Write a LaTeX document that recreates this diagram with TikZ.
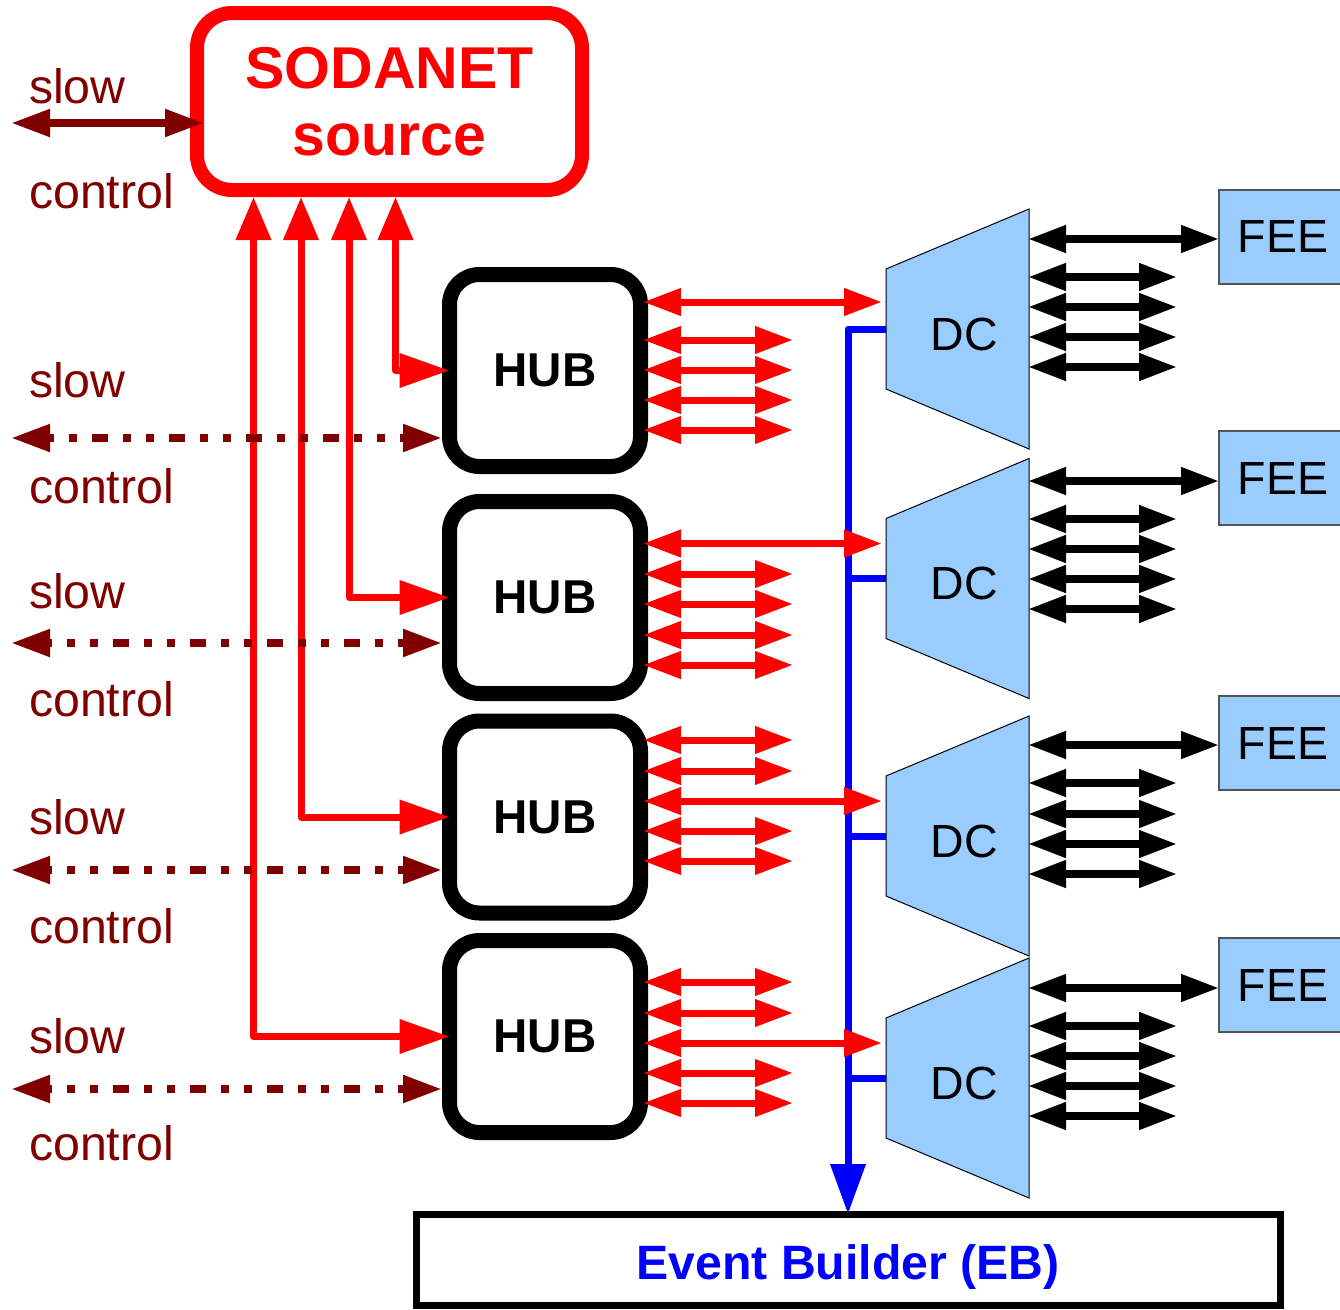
\documentclass[tikz,border=0pt]{standalone}
\usepackage{fontspec}
\setmainfont{Liberation Sans}
\usetikzlibrary{arrows.meta,calc}
\definecolor{sodred}{HTML}{FF0000}
\definecolor{slowred}{HTML}{800000}
\definecolor{ebblue}{HTML}{0000FF}
\definecolor{dcfill}{HTML}{99CCFF}
\definecolor{feeline}{HTML}{555555}
\tikzset{
  every node/.style={inner sep=0pt, outer sep=0pt},
  sodbox/.style={draw=sodred, line width=14pt, rounded corners=35pt,
    minimum width=385pt, minimum height=177pt, align=center, text=sodred,
    font=\fontsize{59}{67}\selectfont\bfseries},
  hubbox/.style={draw=black, line width=15pt, rounded corners=30pt,
    minimum width=191pt, minimum height=192pt,
    font=\fontsize{47.5}{55}\selectfont\bfseries},
  dcbody/.style={minimum width=143pt, minimum height=240pt},
  dcshape/.style={fill=dcfill, draw=black, line width=1pt},
  dclabel/.style={anchor=base, font=\fontsize{46.5}{54}\selectfont},
  feebox/.style={fill=dcfill, draw=feeline, line width=1.5pt,
    minimum width=128pt, minimum height=94pt,
    font=\fontsize{46.5}{54}\selectfont},
  ebbox/.style={draw=black, line width=7pt, minimum width=864pt, minimum height=91pt},
  eblabel/.style={anchor=base, text=ebblue, font=\fontsize{48.2}{56}\selectfont\bfseries},
  sclabel/.style={anchor=base west, text=slowred, font=\fontsize{48.3}{56}\selectfont},
  redlink/.style={draw=sodred, line width=7pt,
    {Triangle[length=38pt,width=26pt]}-{Triangle[length=38pt,width=26pt]}},
  blacklink/.style={draw=black, line width=7.5pt,
    {Triangle[length=38pt,width=26pt]}-{Triangle[length=38pt,width=26pt]}},
  feed/.style={draw=sodred, line width=7pt, line join=round,
    {Triangle[length=43pt,width=34pt]}-{Triangle[length=50pt,width=33pt]}},
  readout/.style={draw=ebblue, line width=7pt, line join=round},
  sclink/.style={draw=slowred, line width=8pt,
    {Triangle[length=39pt,width=26pt]}-{Triangle[length=39pt,width=26pt]}},
  scdash/.style={sclink, dash pattern=on 16pt off 15pt on 8pt off 15pt on 8pt off 15pt},
}
\begin{document}
\begin{tikzpicture}[x=1pt,y=-1pt]
\useasboundingbox (0,0) rectangle (1340,1309);

% source, hubs and event builder
\node[sodbox] (sod) at (389.5,101.5) {SODANET\\source};
\node[hubbox] (hub1) at (545,370.5) {HUB};
\node[hubbox] (hub2) at (545,597.5) {HUB};
\node[hubbox] (hub3) at (545,817) {HUB};
\node[hubbox] (hub4) at (545,1036.5) {HUB};
\node[ebbox] (eb) at (848,1259.5) {};
\node[eblabel] (ebtext) at (848,1279) {Event Builder (EB)};

% data concentrators (trapezoids) and front-end electronics
\foreach \i/\y in {1/329,2/578.5,3/836,4/1078}{
  \node[dcbody] (dc\i) at (957.5,\y) {};
  \path[dcshape] ($(dc\i.west)+(0,-60)$) -- (dc\i.north east)
    -- (dc\i.south east) -- ($(dc\i.west)+(0,60)$) -- cycle;
  \node[dclabel] (dc\i txt) at ($(dc\i.center)+(7,21)$) {DC};
}
\foreach \i/\y in {1/237,2/478,3/743,4/985}
  \node[feebox] (fee\i) at (1283,\y) {FEE};

% readout bus to the event builder
\draw[readout, -{Triangle[length=50pt,width=34pt]}] (dc1.west) -| (eb.north);
\foreach \i in {2,3,4}
  \draw[readout] (dc\i.west) -- (dc\i.west -| eb.north);

% SODANET feeds to the hubs
\foreach \i/\x in {1/395.5,2/349,3/301,4/253.5}
  \draw[feed] ($(sod.south)+(\x-389.5,7)$) |- (hub\i.west);

% hub outputs: one link to a DC, four spare links each
\draw[redlink] ($(hub1.east |- 0,302)+(2.5,0)$) -- ($(dc1.west |- 0,302)+(-4,0)$);
\foreach \y in {340,370,400,430}
  \draw[redlink] ($(hub1.east |- 0,\y)+(2.5,0)$) -- (793,\y);
\draw[redlink] ($(hub2.east |- 0,543.5)+(2.5,0)$) -- ($(dc2.west |- 0,543.5)+(-4,0)$);
\foreach \y in {574,604,635,665}
  \draw[redlink] ($(hub2.east |- 0,\y)+(2.5,0)$) -- (793,\y);
\draw[redlink] ($(hub3.east |- 0,801)+(2.5,0)$) -- ($(dc3.west |- 0,801)+(-4,0)$);
\foreach \y in {740,771,831,861}
  \draw[redlink] ($(hub3.east |- 0,\y)+(2.5,0)$) -- (793,\y);
\draw[redlink] ($(hub4.east |- 0,1043)+(2.5,0)$) -- ($(dc4.west |- 0,1043)+(-4,0)$);
\foreach \y in {982,1013,1073,1103}
  \draw[redlink] ($(hub4.east |- 0,\y)+(2.5,0)$) -- (793,\y);

% DC outputs: one link to the FEE, four spare links each
\foreach \i/\l/\a/\b/\c/\d in {1/239/277/307/337/367, 2/481/519/549/579/609,
                              3/745/783/814/844/874, 4/988/1026/1056/1086/1116}{
  \draw[blacklink] ($(dc\i.east |- 0,\l)+(-1,0)$) -- (fee\i.west |- 0,\l);
  \foreach \y in {\a,\b,\c,\d}
    \draw[blacklink] ($(dc\i.east |- 0,\y)+(-1,0)$) -- (1177,\y);
}

% slow control
\coordinate (sc0) at (11,123);
\draw[sclink] (sc0) -- ($(sod.west |- sc0)+(7,0)$);
\coordinate (sc1) at (11,438);
\coordinate (sc2) at (11,643);
\coordinate (sc3) at (11,870);
\coordinate (sc4) at (11,1089);
\draw[scdash, dash phase=33pt] (sc1) -- ($(hub1.west |- sc1)+(-7.5,0)$);
\foreach \i in {2,3,4}
  \draw[scdash, dash phase=12pt] (sc\i) -- ($(hub\i.west |- sc\i)+(-7.5,0)$);

\foreach \y [count=\k] in {103,397,608,834,1053}
  \node[sclabel] (slow\k) at (29,\y) {slow};
\foreach \y [count=\k] in {208,503,716,943,1160}
  \node[sclabel] (ctrl\k) at (29,\y) {control};
\end{tikzpicture}
\end{document}
